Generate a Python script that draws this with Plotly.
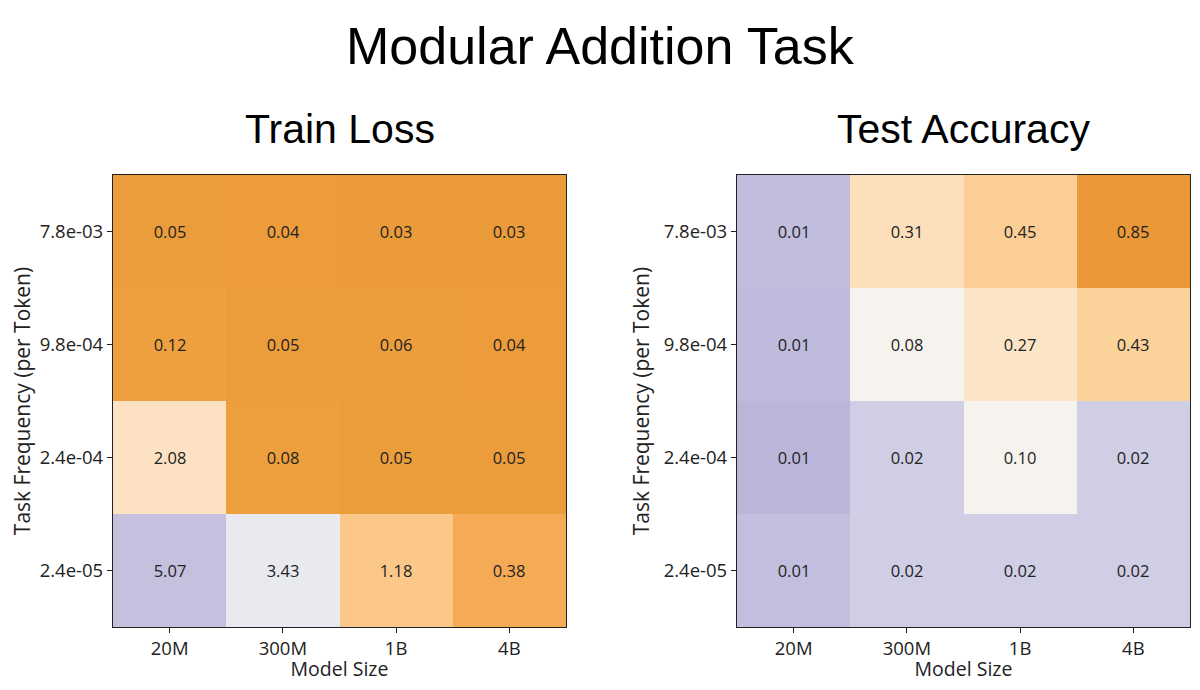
import numpy as np
import plotly.graph_objects as go

model_sizes = ['20M', '300M', '1B', '4B']
task_freqs = ['7.8e-03', '9.8e-04', '2.4e-04', '2.4e-05']  # top to bottom

# rows follow task_freqs, columns follow model_sizes
train_loss = [
    [0.05, 0.04, 0.03, 0.03],
    [0.12, 0.05, 0.06, 0.04],
    [2.08, 0.08, 0.05, 0.05],
    [5.07, 3.43, 1.18, 0.38],
]
test_acc = [
    [0.010, 0.31, 0.45, 0.85],
    [0.009, 0.08, 0.27, 0.43],
    [0.007, 0.02, 0.10, 0.02],
    [0.011, 0.02, 0.02, 0.02],
]

# colour scales run on log10 of the values
loss_colors = [[0, '#EB9B39'], [0.27, '#EEA03F'], [0.5, '#F5AB55'], [0.72, '#FBC98A'],
               [0.83, '#FCE3C4'], [0.92, '#EBEBF1'], [1, '#C4C0DE']]
acc_colors = [[0, '#B4B0D6'], [0.13, '#C0BDDD'], [0.26, '#CFCEE4'], [0.52, '#F6F2EE'],
              [0.57, '#F6F2EE'], [0.76, '#FCE4C6'], [0.84, '#FCD29C'], [0.97, '#EB9837'],
              [1, '#E8912E']]

# page has an 8px body margin, so the figure is drawn 8px smaller and offset
OFF = 8
W, H = 1200 - 2 * OFF, 690 - 2 * OFF
FONT = 'Open Sans'
TXT = '#222222'


def px_x(p):
    return (p - OFF) / W


def px_y(p):
    return 1 - (p - OFF) / H


def heat(z, colors, zmin, zmax, xa, ya):
    z = np.array(z)
    return go.Heatmap(
        z=np.log10(z), x=model_sizes, y=task_freqs,
        text=[[f'{v:.2f}' for v in row] for row in z],
        texttemplate='%{text}', textfont=dict(family=FONT, size=16.5, color=TXT),
        colorscale=colors, zmin=zmin, zmax=zmax, showscale=False,
        xgap=0, ygap=0, xaxis=xa, yaxis=ya, hoverinfo='skip')


fig = go.Figure()
fig.add_trace(heat(train_loss, loss_colors, np.log10(0.03), np.log10(5.07), 'x', 'y'))
fig.add_trace(heat(test_acc, acc_colors, np.log10(0.005), 0, 'x2', 'y2'))

ax_style = dict(showline=True, linecolor='#222', linewidth=1.2, mirror=True,
                ticks='outside', ticklen=5, tickcolor='#222', showgrid=False, zeroline=False,
                tickfont=dict(family=FONT, size=18.5, color=TXT))
ydom = [px_y(627), px_y(175)]
xtitle = dict(text='Model Size', font=dict(family=FONT, size=19.5, color=TXT), standoff=0)
ytitle = dict(text='Task Frequency (per Token)', font=dict(family=FONT, size=21, color=TXT), standoff=8)

fig.update_layout(
    width=W, height=H, margin=dict(l=0, r=0, t=0, b=0),
    paper_bgcolor='white', plot_bgcolor='white',
    xaxis=dict(domain=[px_x(113), px_x(566)], anchor='y', title=xtitle, **ax_style),
    yaxis=dict(domain=ydom, anchor='x', autorange='reversed', title=ytitle, **ax_style),
    xaxis2=dict(domain=[px_x(737), px_x(1190)], anchor='y2', title=xtitle, **ax_style),
    yaxis2=dict(domain=ydom, anchor='x2', autorange='reversed', title=ytitle, **ax_style),
)

title_font = 'Liberation Sans, Arial, sans-serif'
fig.add_annotation(text='Modular Addition Task', x=px_x(600), y=px_y(46), xref='paper', yref='paper',
                   xanchor='center', yanchor='middle', showarrow=False,
                   font=dict(family=title_font, size=52, color='black'))
fig.add_annotation(text='Train Loss', x=px_x(340), y=px_y(129), xref='paper', yref='paper',
                   xanchor='center', yanchor='middle', showarrow=False,
                   font=dict(family=title_font, size=41, color='black'))
fig.add_annotation(text='Test Accuracy', x=px_x(963), y=px_y(129), xref='paper', yref='paper',
                   xanchor='center', yanchor='middle', showarrow=False,
                   font=dict(family=title_font, size=41, color='black'))

fig.write_html('out.html')
